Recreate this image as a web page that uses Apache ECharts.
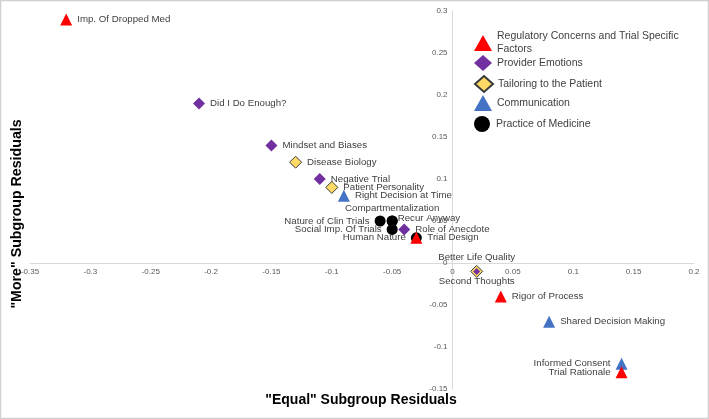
<!DOCTYPE html>
<html>
<head>
<meta charset="utf-8">
<script src="https://cdn.jsdelivr.net/npm/echarts@6/dist/echarts.min.js"></script>
<style>html,body{margin:0;padding:0;background:#fff}#c{width:709px;height:419px}</style>
</head>
<body>
<div id="c"></div>
<script>
// ---- data ----
const categories = ['Regulatory Concerns and Trial Specific\nFactors', 'Provider Emotions', 'Tailoring to the Patient', 'Communication', 'Practice of Medicine'];

const regNames = ['Imp. Of Dropped Med', 'Trial Design', 'Rigor of Process', 'Trial Rationale'];
const regX = [-0.32, -0.03, 0.04, 0.14];
const regY = [0.29, 0.03, -0.04, -0.13];

const provNames = ['Did I Do Enough?', 'Mindset and Biases', 'Negative Trial', 'Role of Anecdote', 'Second Thoughts'];
const provX = [-0.21, -0.15, -0.11, -0.04, 0.02];
const provY = [0.19, 0.14, 0.10, 0.04, -0.01];

const tailNames = ['Disease Biology', 'Patient Personality', 'Better Life Quality'];
const tailX = [-0.13, -0.10, 0.02];
const tailY = [0.12, 0.09, -0.01];

const commNames = ['Right Decision at Time', 'Shared Decision Making', 'Informed Consent'];
const commX = [-0.09, 0.08, 0.14];
const commY = [0.08, -0.07, -0.12];

const pracNames = ['Nature of Clin Trials', 'Recur Anyway', 'Compartmentalization', 'Social Imp. Of Trials', 'Human Nature'];
const pracX = [-0.06, -0.05, -0.05, -0.05, -0.03];
const pracY = [0.05, 0.05, 0.05, 0.04, 0.03];

const xTitle = '"Equal" Subgroup Residuals';
const yTitle = '"More" Subgroup Residuals';

// ---- styles ----
const FONT = '"Liberation Sans", Arial, sans-serif';
const labelStyle = {
  'Trial Rationale': {position: 'left'},
  'Informed Consent': {position: 'left'},
  'Nature of Clin Trials': {position: 'left'},
  'Social Imp. Of Trials': {position: 'left'},
  'Human Nature': {position: 'left'},
  'Compartmentalization': {position: 'top', distance: 2},
  'Recur Anyway': {position: 'right', distance: 0, offset: [0, -3]},
  'Better Life Quality': {position: 'top', distance: 3},
  'Second Thoughts': {position: 'bottom', distance: 1}
};
const symbolSizes = {'Second Thoughts': 7};

function mk(names, xs, ys) {
  return names.map((n, i) => {
    const d = {name: n, value: [xs[i], ys[i]]};
    if (labelStyle[n]) d.label = labelStyle[n];
    if (symbolSizes[n]) d.symbolSize = symbolSizes[n];
    return d;
  });
}

const baseLabel = {show: true, position: 'right', formatter: p => p.name, color: '#404040', fontSize: 9.7, fontFamily: FONT};

const series = [
  {name: categories[4], type: 'scatter', symbol: 'circle', symbolSize: 11, z: 2,
   itemStyle: {color: '#000000', opacity: 1}, data: mk(pracNames, pracX, pracY)},
  {name: categories[2], type: 'scatter', symbol: 'diamond', symbolSize: 12, z: 3,
   itemStyle: {color: '#ffd966', borderColor: '#3a3a3a', borderWidth: 1, opacity: 1}, data: mk(tailNames, tailX, tailY)},
  {name: categories[1], type: 'scatter', symbol: 'diamond', symbolSize: 12, z: 4,
   itemStyle: {color: '#7030a0', opacity: 1}, data: mk(provNames, provX, provY)},
  {name: categories[3], type: 'scatter', symbol: 'triangle', symbolSize: 12, z: 5,
   itemStyle: {color: '#4472c4', opacity: 1}, data: mk(commNames, commX, commY)},
  {name: categories[0], type: 'scatter', symbol: 'triangle', symbolSize: 12, z: 6,
   itemStyle: {color: '#ff0000', opacity: 1}, data: mk(regNames, regX, regY)}
];
series.forEach(s => { s.label = baseLabel; s.emphasis = {disabled: true}; });

const legendTops = [30, 55, 75, 95, 116];
const legends = [0, 1, 2, 3, 4].map((ci, i) => ({
  data: [categories[ci]], orient: 'vertical', left: 474, top: legendTops[i], padding: 0,
  itemWidth: 18, itemHeight: 16, selectedMode: false,
  textStyle: {color: '#404040', fontSize: 10.5, fontFamily: FONT, lineHeight: 13}
}));

const axisCommon = {
  type: 'value',
  axisLine: {onZero: false, lineStyle: {color: '#d9d9d9', width: 1}},
  axisTick: {show: false}, splitLine: {show: false},
  axisLabel: {color: '#595959', fontSize: 8, margin: 5, fontFamily: FONT}
};

const chart = echarts.init(document.getElementById('c'), null, {renderer: 'canvas'});
chart.setOption({
  animation: false,
  backgroundColor: '#ffffff',
  textStyle: {fontFamily: FONT},
  grid: {left: 30, right: 15, top: 11, bottom: 30, containLabel: false},
  xAxis: Object.assign({}, axisCommon, {min: -0.35, max: 0.2, interval: 0.05}),
  yAxis: Object.assign({}, axisCommon, {min: -0.15, max: 0.3, interval: 0.05}),
  legend: legends,
  series: series,
  graphic: [
    {type: 'rect', z: -10, shape: {x: 0.5, y: 0.5, width: 708, height: 418},
     style: {fill: 'none', stroke: '#d0d0d0', lineWidth: 1.5}},
    {type: 'text', x: 361, y: 400,
     style: {text: xTitle, font: 'bold 14px ' + FONT, fill: '#000', textAlign: 'center', textVerticalAlign: 'middle'}},
    {type: 'text', x: 17, y: 214, rotation: Math.PI / 2,
     style: {text: yTitle, font: 'bold 14.2px ' + FONT, fill: '#000', textAlign: 'center', textVerticalAlign: 'middle'}}
  ]
});

// Move both axes (line + labels) onto the zero of the other axis, using the library's scales.
const x0 = chart.convertToPixel({xAxisIndex: 0}, 0);
const xMinPx = chart.convertToPixel({xAxisIndex: 0}, -0.35);
const y0 = chart.convertToPixel({yAxisIndex: 0}, 0);
const yMinPx = chart.convertToPixel({yAxisIndex: 0}, -0.15);
chart.setOption({
  yAxis: {offset: -(x0 - xMinPx)},
  xAxis: {offset: -(yMinPx - y0)}
});
</script>
</body>
</html>
